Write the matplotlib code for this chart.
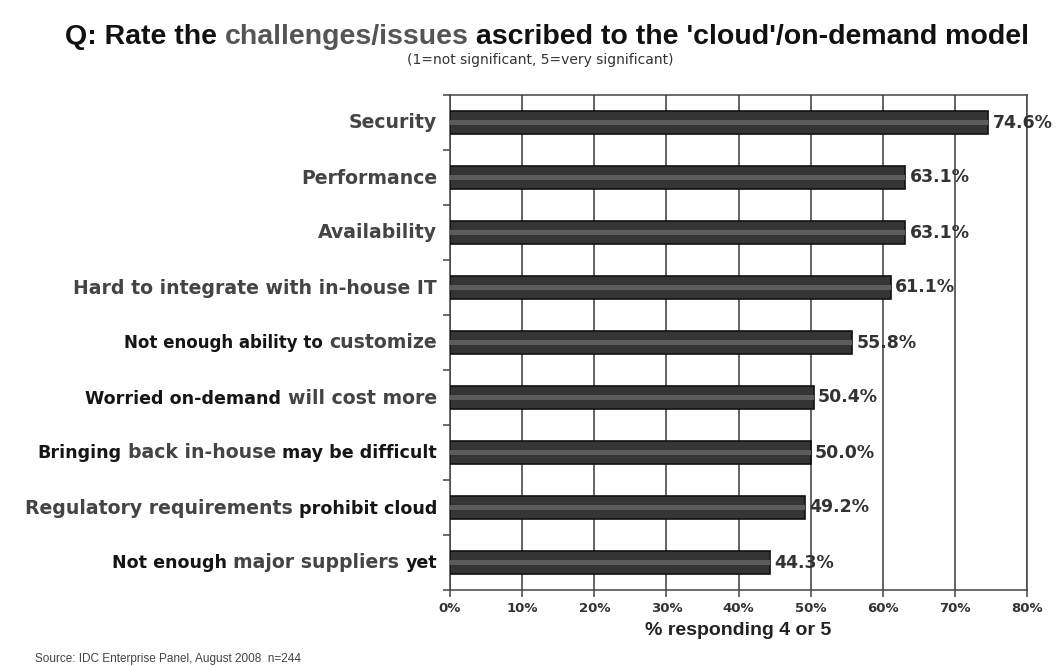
import matplotlib
matplotlib.use("Agg")
import matplotlib.pyplot as plt
import numpy as np

categories = [
    "Security",
    "Performance",
    "Availability",
    "Hard to integrate with in-house IT",
    "Not enough ability to customize",
    "Worried on-demand will cost more",
    "Bringing back in-house may be difficult",
    "Regulatory requirements prohibit cloud",
    "Not enough major suppliers yet",
]
# label pieces: (text, style) where style 'g' = gray, 'k' = black
label_pieces = [
    [("Security", "g")],
    [("Performance", "g")],
    [("Availability", "g")],
    [("Hard to integrate with in-house IT", "g")],
    [("Not enough ability to", "k2"), ("customize", "g")],
    [("Worried on-demand", "k"), ("will cost more", "g")],
    [("Bringing", "k"), ("back in-house", "g"), ("may be difficult", "k")],
    [("Regulatory requirements", "g"), ("prohibit cloud", "k")],
    [("Not enough", "k"), ("major suppliers", "g"), ("yet", "k")],
]
values = [74.6, 63.1, 63.1, 61.1, 55.8, 50.4, 50.0, 49.2, 44.3]
xticks = [0, 10, 20, 30, 40, 50, 60, 70, 80]
xtick_labels = ["0%", "10%", "20%", "30%", "40%", "50%", "60%", "70%", "80%"]

W, H = 1064, 666
AX_L, AX_R, AX_T, AX_B = 450, 1027, 95, 590
fig = plt.figure(figsize=(W / 100, H / 100), dpi=100)
fig.patch.set_facecolor("white")
ax = fig.add_axes([AX_L / W, 1 - AX_B / H, (AX_R - AX_L) / W, (AX_B - AX_T) / H])

y = np.arange(len(categories))
ax.barh(y, values, height=0.43, color="#353535", edgecolor="#111111", linewidth=1.2, zorder=3)
ax.barh(y, values, height=0.10, color="#5c5c5c", edgecolor="none", zorder=4)

ax.set_xlim(0, 80)
ax.set_ylim(len(categories) - 0.5, -0.5)
ax.set_xticks(xticks)
ax.set_xticklabels(xtick_labels, fontsize=9.5, fontweight="bold", color="#333333",
                   family="DejaVu Sans")
ax.tick_params(axis="x", direction="out", length=5, width=1.1, color="#444444", pad=4)
ax.set_yticks([])
ax.set_yticks(np.arange(len(categories) + 1) - 0.5, minor=True)
ax.tick_params(axis="y", which="minor", direction="out", length=5, width=1.1, color="#444444",
               labelleft=False)
ax.grid(axis="x", color="#3a3a3a", linewidth=1.1, zorder=0)
for s in ax.spines.values():
    s.set_color("#444444")
    s.set_linewidth(1.1)

ax.set_xlabel("% responding 4 or 5", fontsize=14, fontweight="bold", color="#222222",
              family="Liberation Sans", labelpad=5)

for yi, v in zip(y, values):
    ax.text(v + 0.6, yi, f"{v:.1f}%", va="center", ha="left", fontsize=12.5,
            fontweight="bold", color="#333333", family="DejaVu Sans", zorder=5)

fig.canvas.draw()
renderer = fig.canvas.get_renderer()

styles = {
    "g": dict(family="DejaVu Sans", fontsize=13.6, fontweight="bold", color="#444444"),
    "k": dict(family="DejaVu Sans", fontsize=12.6, fontweight="bold", color="#151515"),
    "k2": dict(family="DejaVu Sans", fontsize=12.0, fontweight="bold", color="#151515"),
}

def space_w(st):
    t1 = fig.text(0, 0, "a a", **st)
    t2 = fig.text(0, 0, "aa", **st)
    w = t1.get_window_extent(renderer).width - t2.get_window_extent(renderer).width
    t1.remove(); t2.remove()
    return w

gaps = {k: space_w(st) for k, st in styles.items()}

x_right = AX_L - 13
for yi, pieces in zip(y, label_pieces):
    yc = ax.transData.transform((0, yi))[1]
    yb = yc - 6
    x = x_right
    for txt, sk in reversed(pieces):
        t = fig.text(x / W, yb / H, txt, ha="right", va="baseline", **styles[sk])
        bb = t.get_window_extent(renderer)
        x = bb.x0 - gaps[sk]

# Title with mixed colors
title_pieces = [("Q: Rate the ", "#111111"), ("challenges/issues", "#555555"),
                (" ascribed to the 'cloud'/on-demand model", "#111111")]
tst = dict(family="Liberation Sans", fontsize=20.5, fontweight="bold")
widths = []
for txt, c in title_pieces:
    t = fig.text(0, 0, txt.replace(" ", "\u00a0"), **tst)
    widths.append(t.get_window_extent(renderer).width)
    t.remove()
total = sum(widths)
x0 = 547 - total / 2
for (txt, c), w in zip(title_pieces, widths):
    fig.text(x0 / W, 1 - 44 / H, txt.replace(" ", "\u00a0"), ha="left", va="baseline", color=c, **tst)
    x0 += w

fig.text(540 / W, 1 - 64 / H, "(1=not significant, 5=very significant)", ha="center",
         va="baseline", fontsize=10, color="#333333", family="DejaVu Sans")

fig.text(35 / W, 1 - 662 / H, "Source: IDC Enterprise Panel, August 2008  n=244", ha="left",
         va="baseline", fontsize=8.5, color="#444444", family="Liberation Sans")

fig.savefig("out.png", dpi=100)
